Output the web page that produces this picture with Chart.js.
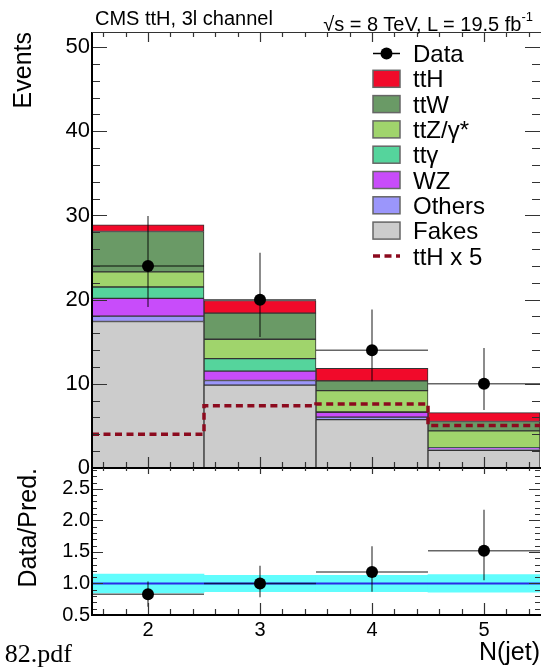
<!DOCTYPE html>
<html>
<head>
<meta charset="utf-8">
<script src="https://cdn.jsdelivr.net/npm/chart.js@4.4.0/dist/chart.umd.min.js"></script>
<style>
  body { margin: 0; background: #fff; }
  #wrap { position: relative; width: 541px; height: 670px; overflow: hidden; font-family: "Liberation Sans", Arial, sans-serif; }
  canvas { position: absolute; left: 0; }
  #main { top: 0; }
  #ratio { top: 455px; }
  .txt { position: absolute; white-space: nowrap; color: #000; }
  #hdrLeft { left: 95px; top: 8px; font-size: 20px; line-height: 20px; }
  #hdrRight { right: 8px; top: 9px; font-size: 20px; line-height: 20px; }
  #hdrRight sup { font-size: 13px; position: relative; top: -2px; }
  #pdf { right: 469px; top: 641px; font-family: "Liberation Serif", serif; font-size: 26px; line-height: 26px; }
</style>
</head>
<body>
<div id="wrap">
  <canvas id="main" width="541" height="490"></canvas>
  <canvas id="ratio" width="541" height="215"></canvas>
  <div class="txt" id="hdrLeft">CMS ttH, 3l channel</div>
  <div class="txt" id="hdrRight">√s = 8 TeV, L = 19.5 fb<sup>-1</sup></div>
  <div class="txt" id="pdf">82.pdf</div>
</div>
<script>
"use strict";

// bins of N(jet)
const nJet = [2, 3, 4, 5];

// stacked backgrounds, bottom to top (events per bin)
const fakes = [17.4, 9.85, 5.75, 2.1];
const others = [0.65, 0.55, 0.3, 0.1];
const wz = [2.1, 1.1, 0.55, 0.2];
const ttgamma = [1.35, 1.5, 0.05, 0.02];
const ttz = [1.8, 2.3, 2.55, 2.0];
const ttw = [4.8, 3.1, 1.15, 1.1];
const tth = [0.8, 1.5, 1.5, 1.05];

const tthX5 = [4.0, 7.4, 7.6, 5.05];

const dataEvents = [24, 20, 14, 10];
const dataErrUp = [5.95, 5.58, 4.83, 4.26];
const dataErrDown = [4.86, 4.43, 3.7, 3.11];

const ratio = [0.83, 1.0, 1.18, 1.52];
const ratioErrUp = [0.2, 0.28, 0.41, 0.65];
const ratioErrDown = [0.2, 0.22, 0.31, 0.47];
const bandLow = [0.85, 0.87, 0.87, 0.86];
const bandHigh = [1.15, 1.13, 1.13, 1.14];

const eventsTicks = [0, 10, 20, 30, 40, 50];
const ratioTicks = [0.5, 1.0, 1.5, 2.0, 2.5];

const binHalf = 0.5;
const xMin = nJet[0] - binHalf;
const xMax = nJet[nJet.length - 1] + binHalf;

Chart.defaults.font.family = "'Liberation Sans', Arial, sans-serif";
Chart.defaults.color = "#000";

function points(values) {
  return nJet.map((x, i) => ({ x: x, y: values[i] }));
}

function binSteps(values) {
  return nJet.flatMap((x, i) => [
    { x: x - binHalf, y: values[i] },
    { x: x + binHalf, y: values[i] },
  ]);
}

function stackSet(label, values, color) {
  return {
    type: "bar",
    label: label,
    stack: "bkg",
    data: points(values),
    backgroundColor: color,
    borderColor: "#333",
    borderWidth: 1,
    borderSkipped: false,
    barPercentage: 1,
    categoryPercentage: 1,
    order: 3,
  };
}

// draws data error bars right before the markers
const errorBars = {
  id: "errorBars",
  beforeDatasetDraw(chart, args) {
    const ds = chart.data.datasets[args.index];
    if (!ds.errUp) return;
    const ctx = chart.ctx;
    const x = chart.scales.x;
    const y = chart.scales.y;
    ctx.save();
    ctx.strokeStyle = "rgba(0,0,0,0.6)";
    ctx.lineWidth = 1.5;
    ds.data.forEach((p, i) => {
      const px = x.getPixelForValue(p.x);
      const py = y.getPixelForValue(p.y);
      ctx.beginPath();
      ctx.moveTo(x.getPixelForValue(p.x - binHalf), py);
      ctx.lineTo(x.getPixelForValue(p.x + binHalf), py);
      ctx.moveTo(px, y.getPixelForValue(p.y + ds.errUp[i]));
      ctx.lineTo(px, y.getPixelForValue(p.y - ds.errDown[i]));
      ctx.stroke();
    });
    ctx.restore();
  },
};

// ROOT style frame with inward ticks on all sides
const frameTicks = {
  id: "frameTicks",
  afterDraw(chart, args, o) {
    const ctx = chart.ctx;
    const a = chart.chartArea;
    const x = chart.scales.x;
    const y = chart.scales.y;
    ctx.save();
    ctx.strokeStyle = "#333";
    ctx.lineWidth = 1.2;
    ctx.beginPath();
    for (let k = Math.ceil(x.min / o.xStep - 1e-9); k * o.xStep < x.max - 1e-9; k++) {
      const v = k * o.xStep;
      if (v <= x.min + 1e-9) continue;
      const major = Math.abs(v / o.xMajor - Math.round(v / o.xMajor)) < 1e-6;
      const px = Math.round(x.getPixelForValue(v)) + 0.5;
      ctx.moveTo(px, a.bottom);
      ctx.lineTo(px, a.bottom - o.bottomLen[major ? 1 : 0]);
      ctx.moveTo(px, a.top);
      ctx.lineTo(px, a.top + o.topLen[major ? 1 : 0]);
    }
    for (let k = Math.ceil(y.min / o.yStep - 1e-9); k * o.yStep < y.max - 1e-9; k++) {
      const v = k * o.yStep;
      if (v <= y.min + 1e-9) continue;
      const major = Math.abs(v / o.yMajor - Math.round(v / o.yMajor)) < 1e-6;
      const py = Math.round(y.getPixelForValue(v)) + 0.5;
      ctx.moveTo(a.left, py);
      ctx.lineTo(a.left + o.sideLen[major ? 1 : 0], py);
      ctx.moveTo(a.right, py);
      ctx.lineTo(a.right - o.sideLen[major ? 1 : 0], py);
    }
    ctx.stroke();
    ctx.strokeStyle = "#000";
    ctx.lineWidth = 2;
    ctx.beginPath();
    ctx.moveTo(a.left, a.top);
    ctx.lineTo(a.left, a.bottom);
    ctx.lineTo(a.right + 1, a.bottom);
    ctx.stroke();
    if (o.topLine) {
      ctx.strokeStyle = "#333";
      ctx.lineWidth = 1.2;
      ctx.beginPath();
      ctx.moveTo(a.left, a.top + 0.5);
      ctx.lineTo(a.right + 1, a.top + 0.5);
      ctx.stroke();
    }
    ctx.restore();
  },
};

const legendOrder = ["Data", "ttH", "ttW", "ttZ/γ*", "ttγ", "WZ", "Others", "Fakes", "ttH x 5"];

const histLegend = {
  id: "histLegend",
  afterDraw(chart, args, o) {
    const ctx = chart.ctx;
    ctx.save();
    ctx.font = o.fontSize + "px 'Liberation Sans', Arial, sans-serif";
    ctx.fillStyle = "#000";
    ctx.textBaseline = "alphabetic";
    legendOrder.forEach((label, i) => {
      const ds = chart.data.datasets.find((d) => d.label === label);
      const cy = o.top + i * o.rowHeight;
      if (ds.type === "bar") {
        ctx.fillStyle = ds.backgroundColor;
        ctx.fillRect(o.boxLeft, cy - o.boxHeight / 2, o.boxWidth, o.boxHeight);
        ctx.strokeStyle = "#666";
        ctx.lineWidth = 1.5;
        ctx.strokeRect(o.boxLeft, cy - o.boxHeight / 2, o.boxWidth, o.boxHeight);
      } else if (ds.errUp) {
        ctx.strokeStyle = "#000";
        ctx.lineWidth = 1.5;
        ctx.beginPath();
        ctx.moveTo(o.boxLeft, cy);
        ctx.lineTo(o.boxLeft + o.boxWidth, cy);
        ctx.stroke();
        ctx.fillStyle = "#000";
        ctx.beginPath();
        ctx.arc(o.boxLeft + o.boxWidth / 2, cy, ds.pointRadius, 0, Math.PI * 2);
        ctx.fill();
      } else {
        ctx.strokeStyle = ds.borderColor;
        ctx.lineWidth = ds.borderWidth;
        ctx.setLineDash(ds.borderDash);
        ctx.beginPath();
        ctx.moveTo(o.boxLeft, cy);
        ctx.lineTo(o.boxLeft + o.boxWidth, cy);
        ctx.stroke();
        ctx.setLineDash([]);
      }
      ctx.fillStyle = "#000";
      ctx.fillText(label, o.textLeft, cy + o.fontSize * 0.36);
    });
    ctx.restore();
  },
};

const mainChart = new Chart(document.getElementById("main"), {
  type: "bar",
  data: {
    datasets: [
      stackSet("Fakes", fakes, "#cccccc"),
      stackSet("Others", others, "#9b96fb"),
      stackSet("WZ", wz, "#c84cfa"),
      stackSet("ttγ", ttgamma, "#55d49c"),
      stackSet("ttZ/γ*", ttz, "#a0d46c"),
      stackSet("ttW", ttw, "#6a9a66"),
      stackSet("ttH", tth, "#f10a2a"),
      {
        type: "line",
        label: "ttH x 5",
        stack: "signal",
        data: binSteps(tthX5),
        borderColor: "#8c0a1e",
        borderWidth: 3.5,
        borderDash: [7, 4.5],
        pointRadius: 0,
        fill: false,
        order: 1,
      },
      {
        type: "line",
        label: "Data",
        stack: "data",
        data: points(dataEvents),
        errUp: dataErrUp,
        errDown: dataErrDown,
        showLine: false,
        pointRadius: 6,
        pointBackgroundColor: "#000",
        pointBorderWidth: 0,
        order: 0,
      },
    ],
  },
  options: {
    responsive: false,
    animation: false,
    events: [],
    layout: { autoPadding: false, padding: { top: 32, right: 1, bottom: 22, left: 0 } },
    plugins: {
      legend: { display: false },
      tooltip: { enabled: false },
      frameTicks: {
        xStep: 0.2, xMajor: 1, yStep: 2, yMajor: 10,
        bottomLen: [6, 11], topLen: [5, 10], sideLen: [8, 15], topLine: true,
      },
      histLegend: {
        top: 53.5, rowHeight: 25.3, boxLeft: 373, boxWidth: 27, boxHeight: 17,
        textLeft: 413, fontSize: 24,
      },
    },
    scales: {
      x: {
        type: "linear",
        min: xMin,
        max: xMax,
        offset: false,
        display: false,
        grid: { offset: false },
        afterBuildTicks: (s) => { s.ticks = nJet.map((v) => ({ value: v })); },
      },
      y: {
        min: 0,
        max: 51.8,
        grid: { display: false, drawTicks: false },
        border: { display: false },
        ticks: { font: { size: 22 }, padding: 2, color: "#000" },
        afterBuildTicks: (s) => { s.ticks = eventsTicks.map((v) => ({ value: v })); },
        title: {
          display: true,
          text: "Events",
          align: "end",
          font: { size: 25 },
          padding: { top: 9, bottom: 0 },
        },
        afterFit: (s) => { s.width = 92; s.paddingTop = 0; s.paddingBottom = 0; },
      },
    },
  },
  plugins: [errorBars, frameTicks, histLegend],
});

const ratioChart = new Chart(document.getElementById("ratio"), {
  type: "bar",
  data: {
    datasets: [
      {
        type: "bar",
        label: "Uncertainty",
        data: nJet.map((x, i) => ({ x: x, y: [bandLow[i], bandHigh[i]] })),
        backgroundColor: "#61fdfd",
        borderWidth: 0,
        barPercentage: 1,
        categoryPercentage: 1,
        order: 3,
      },
      {
        type: "line",
        label: "Unity",
        data: binSteps(nJet.map(() => 1)),
        borderColor: "#2b2be6",
        borderWidth: 2,
        pointRadius: 0,
        fill: false,
        order: 2,
      },
      {
        type: "line",
        label: "Data/Pred.",
        data: points(ratio),
        errUp: ratioErrUp,
        errDown: ratioErrDown,
        showLine: false,
        pointRadius: 6,
        pointBackgroundColor: "#000",
        pointBorderWidth: 0,
        order: 0,
      },
    ],
  },
  options: {
    responsive: false,
    animation: false,
    events: [],
    layout: { autoPadding: false, padding: { top: 13, right: 1, bottom: 0, left: 0 } },
    plugins: {
      legend: { display: false },
      tooltip: { enabled: false },
      frameTicks: {
        xStep: 0.2, xMajor: 1, yStep: 0.1, yMajor: 0.5,
        bottomLen: [6, 12], topLen: [3, 6], sideLen: [5, 11], topLine: false,
      },
    },
    scales: {
      x: {
        type: "linear",
        min: xMin,
        max: xMax,
        offset: false,
        grid: { display: false, drawTicks: false, offset: false },
        border: { display: false },
        ticks: { font: { size: 20 }, padding: 3, color: "#000", autoSkip: false, maxRotation: 0 },
        afterBuildTicks: (s) => { s.ticks = nJet.map((v) => ({ value: v })); },
        title: {
          display: true,
          text: "N(jet)",
          align: "end",
          font: { size: 25 },
          padding: { top: 0, bottom: 2 },
        },
        afterFit: (s) => { s.height = 55; s.paddingLeft = 0; s.paddingRight = 0; },
      },
      y: {
        min: 0.5,
        max: 2.83,
        grid: { display: false, drawTicks: false },
        border: { display: false },
        ticks: { font: { size: 20 }, padding: 2, color: "#000", callback: (v) => v.toFixed(1) },
        afterBuildTicks: (s) => { s.ticks = ratioTicks.map((v) => ({ value: v })); },
        title: {
          display: true,
          text: "Data/Pred.",
          align: "end",
          font: { size: 25 },
          padding: { top: 14, bottom: 0 },
        },
        afterFit: (s) => { s.width = 92; s.paddingTop = 0; s.paddingBottom = 0; },
      },
    },
  },
  plugins: [errorBars, frameTicks],
});
</script>
</body>
</html>
